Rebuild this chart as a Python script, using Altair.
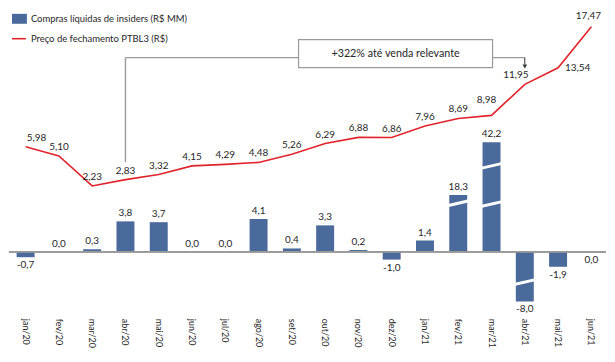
import altair as alt
import pandas as pd

meses = ["jan/20", "fev/20", "mar/20", "abr/20", "mai/20", "jun/20", "jul/20", "ago/20", "set/20",
         "out/20", "nov/20", "dez/20", "jan/21", "fev/21", "mar/21", "abr/21", "mai/21", "jun/21"]
compras = [-0.7, 0.0, 0.3, 3.8, 3.7, 0.0, 0.0, 4.1, 0.4, 3.3, 0.2, -1.0, 1.4, 18.3, 42.2, -8.0, -1.9, 0.0]
# bar heights as drawn on the broken axis (largest bars are cut; last one is a tiny negative)
compras_desenho = [-0.7, 0.0, 0.3, 3.8, 3.7, 0.0, 0.0, 4.1, 0.4, 3.3, 0.2, -1.0, 1.4, 7.1, 13.75, -6.25, -1.9, -0.02]
precos = [5.98, 5.10, 2.23, 2.83, 3.32, 4.15, 4.29, 4.48, 5.26, 6.29, 6.88, 6.86, 7.96, 8.69, 8.98, 11.95, 13.54, 17.47]
quebra_meses = ["fev/21", "mar/21", "mar/21", "abr/21"]
quebra_pos = [5.7, 5.6, 10.4, -4.2]
legenda = ["Compras líquidas de insiders (R$ MM)", "Preço de fechamento PTBL3 (R$)"]
anotacao = "+322% até venda relevante"

FONT = "Lato"
AZUL = "#4a6a9c"
VERMELHO = "#e2232b"
CINZA = "#9a9a9a"
TXT = "#262626"
NUM = 10

df = pd.DataFrame({
    "mes": meses,
    "compras": compras,
    "desenho": compras_desenho,
    "preco": precos,
})
df["lab_c"] = [f"{v:.1f}".replace(".", ",") for v in compras]
df["lab_p"] = [f"{v:.2f}".replace(".", ",") for v in precos]

dq = pd.DataFrame({"mes": quebra_meses, "pos": quebra_pos})
dq["pos2"] = dq["pos"] + 0.75

X = alt.X("mes:N", sort=meses, title=None,
          scale=alt.Scale(domain=meses, paddingInner=0.46, paddingOuter=0.14),
          axis=alt.Axis(labelAngle=90, domain=False, ticks=False, labelPadding=6,
                        labelFontSize=9, labelColor=TXT, labelFont=FONT))

yb = alt.Scale(domain=[-7.625, 30.5], nice=False, zero=False)
yl = alt.Scale(domain=[-9.87, 19.18], nice=False, zero=False)

base = alt.Chart(df)

bars = base.mark_bar(color=AZUL).encode(
    x=X, y=alt.Y("desenho:Q", scale=yb, axis=None), y2=alt.Y2(datum=0))
zero = base.mark_rule(color=CINZA, strokeWidth=1).encode(
    y=alt.Y(datum=0, scale=yb, axis=None), x=alt.value(-3), x2=alt.value(597))
breaks = alt.Chart(dq).mark_rule(color="white", strokeWidth=3, xOffset=-13, x2Offset=13).encode(
    x=X, x2="mes:N", y=alt.Y("pos:Q", scale=yb, axis=None), y2="pos2:Q")
lab_pos = base.transform_filter("datum.desenho >= 0").mark_text(
    baseline="bottom", dy=-3, fontSize=NUM, font=FONT, color=TXT).encode(
    x=X, y=alt.Y("desenho:Q", scale=yb, axis=None), text="lab_c:N")
lab_neg = base.transform_filter("datum.desenho < 0").mark_text(
    baseline="top", dy=3, fontSize=NUM, font=FONT, color=TXT).encode(
    x=X, y=alt.Y("desenho:Q", scale=yb, axis=None), text="lab_c:N")

bar_group = alt.layer(bars, zero, breaks, lab_pos, lab_neg)

line = base.mark_line(color=VERMELHO, strokeWidth=1.6).encode(
    x=X, y=alt.Y("preco:Q", scale=yl, axis=None))

especiais = {
    "jan/20": dict(dx=11, dy=-4),
    "mar/21": dict(dx=-5, dy=-10),
    "abr/21": dict(dx=-9, dy=-4),
    "mai/21": dict(dx=7, dy=0, align="left", baseline="middle"),
    "jun/21": dict(dx=-3, dy=-6),
}
filtro = " && ".join([f"datum.mes != '{m}'" for m in especiais])
price_layers = [base.transform_filter(filtro).mark_text(
    baseline="bottom", dy=-4, fontSize=NUM, font=FONT, color=TXT).encode(
    x=X, y=alt.Y("preco:Q", scale=yl, axis=None), text="lab_p:N")]
for m, kw in especiais.items():
    opts = dict(baseline="bottom", fontSize=NUM, font=FONT, color=TXT)
    opts.update(kw)
    price_layers.append(base.transform_filter(f"datum.mes == '{m}'").mark_text(**opts).encode(
        x=X, y=alt.Y("preco:Q", scale=yl, axis=None), text="lab_p:N"))

line_group = alt.layer(line, *price_layers)

# annotation
one_a = alt.Chart(pd.DataFrame({"mes": ["abr/20"]}))
one_b = alt.Chart(pd.DataFrame({"mes": ["abr/21"]}))
box_df = alt.Chart(pd.DataFrame({"t": [anotacao]}))
vert = one_a.mark_rule(color=CINZA, strokeWidth=1.4).encode(x=X, y=alt.value(49), y2=alt.value(154))
hleft = one_a.mark_rule(color=CINZA, strokeWidth=1.4).encode(x=X, x2=alt.value(288), y=alt.value(49))
hright = one_b.mark_rule(color=CINZA, strokeWidth=1.4).encode(x=X, x2=alt.value(483), y=alt.value(49))
down = one_b.mark_rule(color="#333333", strokeWidth=1).encode(x=X, y=alt.value(49), y2=alt.value(56))
arrow = one_b.mark_point(shape="triangle-down", filled=True, size=22, color="#333333", opacity=1).encode(
    x=X, y=alt.value(58))
box = box_df.mark_rect(fill="white", stroke=CINZA, strokeWidth=1.2).encode(
    x=alt.value(288), x2=alt.value(483), y=alt.value(31), y2=alt.value(59))
box_t = box_df.mark_text(fontSize=10.8, font=FONT, color=TXT).encode(
    x=alt.value(385.5), y=alt.value(45.5), text="t:N")

# legend
leg1 = box_df.mark_rect(color=AZUL).encode(x=alt.value(0), x2=alt.value(15), y=alt.value(5), y2=alt.value(15))
leg2 = box_df.mark_rule(color=VERMELHO, strokeWidth=1.6).encode(x=alt.value(0), x2=alt.value(14), y=alt.value(30))
leg_t = alt.Chart(pd.DataFrame({"t": legenda, "i": [0, 1]})).mark_text(
    align="left", baseline="middle", fontSize=9.5, font=FONT, color=TXT).encode(
    x=alt.value(19),
    y=alt.Y("i:Q", scale=alt.Scale(domain=[0, 1], range=[10, 30]), axis=None),
    text="t:N")

anno = alt.layer(vert, hleft, hright, down, arrow, box, box_t, leg1, leg2)

chart = alt.layer(bar_group, line_group, anno, leg_t).resolve_scale(y="independent").properties(
    width=596, height=305, padding=0
).configure_view(stroke=None)

chart.save("out.html", embed_options={"renderer": "svg", "actions": False})
